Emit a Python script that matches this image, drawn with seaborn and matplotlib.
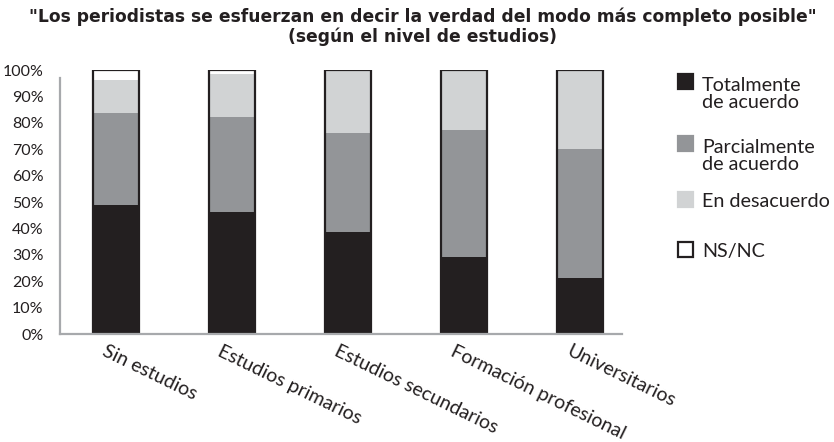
import matplotlib
matplotlib.use("Agg")
import matplotlib.pyplot as plt
import matplotlib.transforms as mtransforms
from matplotlib.patches import Rectangle
import seaborn as sns
import numpy as np
import pandas as pd

categories = ["Sin estudios", "Estudios primarios", "Estudios secundarios",
              "Formación profesional", "Universitarios"]
totalmente = [48.9, 46.2, 38.6, 29.2, 21.2]
parcialmente = [34.9, 36.0, 37.5, 48.1, 48.9]
desacuerdo = [12.4, 16.3, 23.9, 22.7, 29.9]
nsnc = [3.8, 1.5, 0.0, 0.0, 0.0]
series_names = ["Totalmente\nde acuerdo", "Parcialmente\nde acuerdo", "En desacuerdo", "NS/NC"]
colors = ["#231f20", "#939598", "#d1d3d4", "#ffffff"]
yticks = [0, 10, 20, 30, 40, 50, 60, 70, 80, 90, 100]
title = "\"Los periodistas se esfuerzan en decir la verdad del modo más completo posible\"\n(según el nivel de estudios)"

sns.set_style("white")
plt.rcParams["font.family"] = ["Lato", "DejaVu Sans"]

W, H = 834, 442
vals = np.array([totalmente, parcialmente, desacuerdo, nsnc])
cum = np.cumsum(vals, axis=0)

fig = plt.figure(figsize=(W / 100, H / 100), dpi=100)
ax = fig.add_axes([60 / W, 1 - 334 / H, 562 / W, 264 / H])

# draw cumulative stacks from top to bottom
for i in range(3, -1, -1):
    df = pd.DataFrame({"cat": categories, "v": cum[i]})
    sns.barplot(data=df, x="cat", y="v", color=colors[i], width=0.4,
                linewidth=0, saturation=1, ax=ax, order=categories)
# outline of each full bar
df = pd.DataFrame({"cat": categories, "v": cum[3]})
sns.barplot(data=df, x="cat", y="v", fill=False, width=0.4, edgecolor="#231f20",
            linewidth=1.6, ax=ax, order=categories, color="#231f20")

ax.set_xlim(-0.48, 4.36)
ax.set_ylim(0, 100)
ax.set_yticks(yticks)
ax.set_yticklabels([f"{t}%" for t in yticks], fontsize=11.5, color="#231f20")
ax.set_xlabel("")
ax.set_ylabel("")
for s in ["top", "right"]:
    ax.spines[s].set_visible(False)
for s in ["left", "bottom"]:
    ax.spines[s].set_color("#a7a9ac")
    ax.spines[s].set_linewidth(1.6)
ax.spines["left"].set_bounds(0, 97)
ax.tick_params(axis="both", length=0)
ax.tick_params(axis="y", pad=12)

ax.set_xticks(range(len(categories)))
ax.set_xticklabels(categories, rotation=-26, ha="left", va="top",
                   rotation_mode="anchor", fontsize=14, color="#231f20")
offset = mtransforms.ScaledTranslation(-9 / 100, -4 / 100, fig.dpi_scale_trans)
for lbl in ax.get_xticklabels():
    lbl.set_transform(lbl.get_transform() + offset)

# legend drawn by hand (square + label, square bottom on first baseline)
baselines = [89, 151, 207, 257]
line_gap = 18.5
for name, c, yb in zip(series_names, colors, baselines):
    fig.add_artist(Rectangle((678 / W, 1 - yb / H), 15 / W, 15 / H,
                             facecolor=c, edgecolor=("#231f20" if c == "#ffffff" else c),
                             linewidth=1.6, transform=fig.transFigure))
    nl = name.count("\n")
    fig.text(702 / W, 1 - (yb + nl * line_gap) / H, name, fontsize=14.2, va="baseline",
             ha="left", color="#231f20", linespacing=0.96)

fig.text(423 / W, 1 - 7 / H, title, fontsize=12.3, fontweight="bold", family="DejaVu Sans",
         ha="center", va="top", linespacing=1.12, color="#231f20")

fig.savefig("out.png", dpi=100)
